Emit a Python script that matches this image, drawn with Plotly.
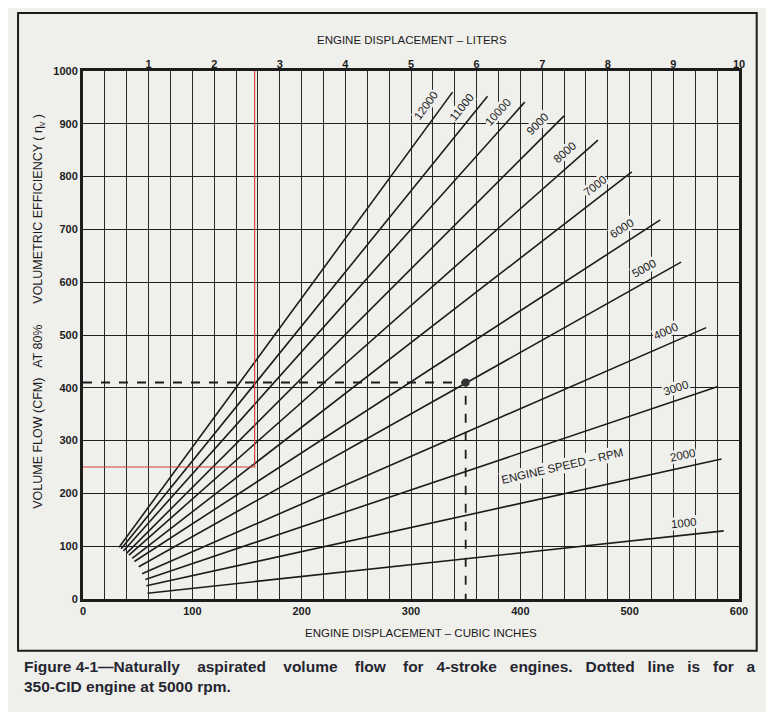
import plotly.graph_objects as go

# engine speed curves (start and end of each line)
rpm = [1000, 2000, 3000, 4000, 5000, 6000, 7000, 8000, 9000, 10000, 11000, 12000]
start_cid = [59, 58, 57, 54, 51, 47, 45, 42, 40, 37, 35, 33]
start_cfm = [11, 25, 37, 48, 61, 71, 77, 83, 87, 91, 95, 98]
end_cid = [586, 584, 580, 570, 547, 528, 502, 471, 440, 404, 370, 338]
end_cfm = [129, 265, 402, 514, 638, 718, 809, 869, 915, 941, 952, 960]

# label spots for each speed line
label_cid = [549.5, 549, 542, 533.5, 513.5, 493.3, 468, 441, 415.7, 379.6, 346.5, 314]
label_cfm = [143.5, 272, 400, 507, 627, 702.6, 783, 846, 898.7, 922.4, 932, 935]
label_angle = [-6, -12, -18, -24, -29, -33, -38, -41, -45, -48, -51, -54]

# 350-CID example at 5000 rpm
example_cid = 350
example_cfm = 410

# red reference marks
red_cid = 157
red_cfm = 250

cid_ticks = [0, 100, 200, 300, 400, 500, 600]
cfm_ticks = [0, 100, 200, 300, 400, 500, 600, 700, 800, 900, 1000]
liter_ticks = [1, 2, 3, 4, 5, 6, 7, 8, 9, 10]

PAPER = "#efefec"
INK = "#1c1c1c"
FONT = "Liberation Sans"

fig = go.Figure()

for i in range(len(rpm)):
    fig.add_trace(go.Scatter(
        x=[start_cid[i], end_cid[i]],
        y=[start_cfm[i], end_cfm[i]],
        mode="lines",
        line=dict(color=INK, width=1.6),
        hoverinfo="skip",
        showlegend=False,
    ))

# red lines
fig.add_trace(go.Scatter(
    x=[0, red_cid, red_cid],
    y=[red_cfm, red_cfm, 1000],
    mode="lines",
    line=dict(color="#d8403a", width=1.2),
    showlegend=False,
))

# dashed example line
fig.add_trace(go.Scatter(
    x=[0, example_cid, example_cid],
    y=[example_cfm, example_cfm, 0],
    mode="lines",
    line=dict(color=INK, width=1.8, dash="dash"),
    showlegend=False,
))
fig.add_trace(go.Scatter(
    x=[example_cid], y=[example_cfm],
    mode="markers",
    marker=dict(color="#333333", size=8),
    showlegend=False,
))

# invisible trace so the liters axis shows on top
fig.add_trace(go.Scatter(
    x=[0, 10], y=[0, 0], xaxis="x2", mode="lines",
    line=dict(width=0), hoverinfo="skip", showlegend=False,
))

for i in range(len(rpm)):
    fig.add_annotation(
        x=label_cid[i], y=label_cfm[i], text=str(rpm[i]),
        textangle=label_angle[i], showarrow=False,
        font=dict(family=FONT, size=11.5, color=INK),
        bgcolor=PAPER, borderpad=0,
    )

fig.add_annotation(
    x=438.6, y=251.7, text="ENGINE SPEED \u2013 RPM", textangle=-13,
    showarrow=False, font=dict(family=FONT, size=11.5, color=INK),
    bgcolor=PAPER, borderpad=1,
)

# axis titles
fig.add_annotation(
    xref="paper", yref="paper", x=0.516, y=-0.064, yanchor="middle",
    text="ENGINE DISPLACEMENT \u2013 CUBIC INCHES", showarrow=False,
    font=dict(family=FONT, size=11.5, color=INK),
)
fig.add_annotation(
    xref="paper", yref="paper", x=0.5015, y=1.059, yanchor="middle",
    text="ENGINE DISPLACEMENT \u2013 LITERS", showarrow=False,
    font=dict(family=FONT, size=11.5, color=INK),
)
fig.add_annotation(
    xref="paper", yref="paper", x=-0.067, y=0.544, textangle=-90,
    xanchor="center", yanchor="middle",
    text="VOLUME FLOW (CFM)   AT 80%      VOLUMETRIC EFFICIENCY ( \u03b7<sub>v</sub> )",
    showarrow=False, font=dict(family=FONT, size=12.5, color=INK),
)

# caption
fig.add_annotation(
    xref="paper", yref="paper", x=-0.093, y=-0.108, xanchor="left", yanchor="top",
    align="left",
    text="<b>Figure 4-1\u2014Naturally    aspirated    volume    flow    for   4-stroke   engines.   "
         "Dotted   line   is   for   a<br>350-CID engine at 5000 rpm.</b>",
    showarrow=False, font=dict(family=FONT, size=15.5, color="#262630"),
)

# outer frame
fig.add_shape(
    type="rect", xref="paper", yref="paper",
    x0=-0.099, x1=1.027, y0=-0.098, y1=1.110,
    line=dict(color=INK, width=2),
)

fig.update_layout(
    width=766, height=704,
    margin=dict(l=75, r=35, t=63, b=113),
    paper_bgcolor=PAPER, plot_bgcolor=PAPER,
    xaxis=dict(
        range=[0, 600], tickvals=cid_ticks, ticks="",
        showgrid=True, gridcolor="#2a2a2a", gridwidth=1, zeroline=False,
        showline=True, linecolor=INK, linewidth=3, mirror=True,
        minor=dict(dtick=20, tick0=0, showgrid=True, gridcolor="#2a2a2a", gridwidth=1),
        tickfont=dict(family=FONT, size=11, color=INK, weight="bold"),
    ),
    xaxis2=dict(
        range=[0, 10], tickvals=liter_ticks, overlaying="x", side="top",
        showgrid=False, zeroline=False, ticks="",
        tickfont=dict(family=FONT, size=11, color=INK, weight="bold"),
    ),
    yaxis=dict(
        range=[0, 1000], tickvals=cfm_ticks, ticks="",
        showgrid=True, gridcolor="#1f1f1f", gridwidth=1.2, zeroline=False,
        showline=True, linecolor=INK, linewidth=3, mirror=True,
        tickfont=dict(family=FONT, size=11, color=INK, weight="bold"),
    ),
)

fig.write_html("out.html")
